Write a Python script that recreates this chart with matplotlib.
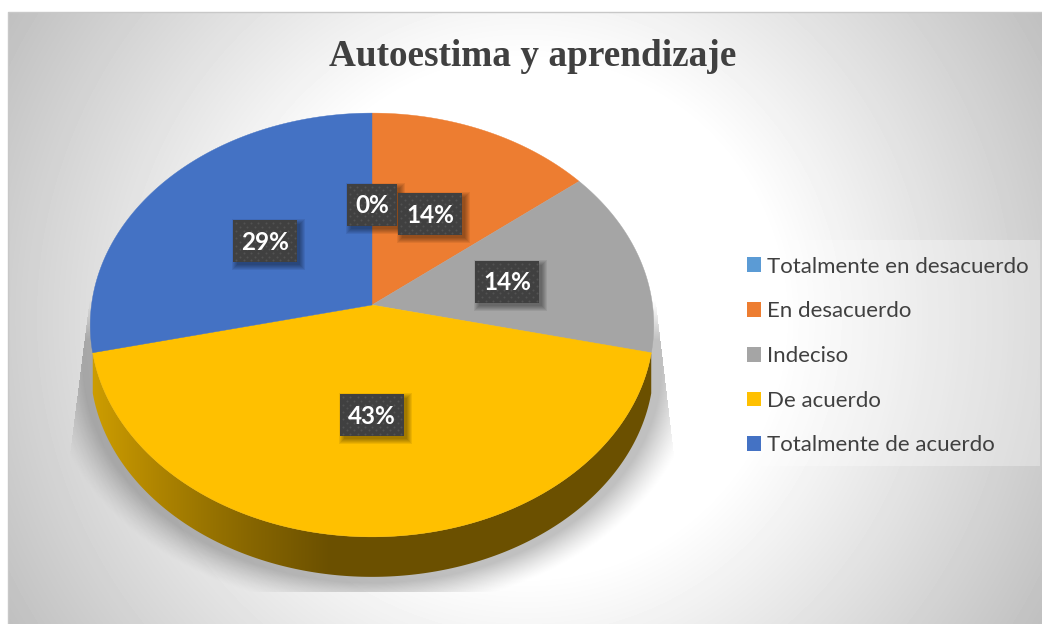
import numpy as np
import matplotlib
matplotlib.use('Agg')
import matplotlib.pyplot as plt
from matplotlib.patches import Rectangle, Polygon

plt.rcParams['font.family'] = ['Lato', 'DejaVu Sans']

titulo = 'Autoestima y aprendizaje'
categorias = ['Totalmente en desacuerdo', 'En desacuerdo', 'Indeciso', 'De acuerdo', 'Totalmente de acuerdo']
valores = [0, 1, 1, 3, 2]
colores = ['#5B9BD5', '#ED7D31', '#A5A5A5', '#FFC000', '#4472C4']

W, H = 1042, 624
# pie en perspectiva (pixeles)
cx, cy = 372, 305
rx, ka, kk = 280.5, 210, 0.0943
prof = 40


def proyectar(ang, f=1.0):
    u = f * np.sin(ang)
    v = f * np.cos(ang)
    d = 1 + kk * v
    return cx + rx * u / d, cy - ka * v / d


fig = plt.figure(figsize=(W / 100, H / 100), dpi=100)
ax = fig.add_axes([0, 0, 1, 1])
ax.set_xlim(0, W)
ax.set_ylim(H, 0)
ax.axis('off')

# fondo con gradiente radial
yy, xx = np.mgrid[0:H, 0:W]
r = np.hypot(xx - 525, yy - 318)
fondo = np.clip(255 - (r - 257) * 0.185, 0, 255) / 255
fondo[:12, :] = 1
fondo[:, :8] = 1
ax.imshow(fondo, cmap='gray', vmin=0, vmax=1, extent=(0, W, H, 0), aspect='auto', zorder=0)
ax.plot([8, 8, W], [H, 12, 12], color='#c8c8c8', lw=1, zorder=1)

# sombra del pie
rad = np.hypot((xx - cx) / 282, (yy - 325 - prof) / 212)
dist = (rad - 1) * 240
alfa = np.clip(1 - (dist - 6) / 32, 0, 1) ** 1.3 * 0.25
borde_izq = 84 - (yy - 340) * 0.127
borde_der = 660 + (yy - 340) * 0.118
mascara = (xx > borde_izq) & (xx < borde_der) & (yy < 592)
alfa = alfa * mascara * np.clip((yy - 300) / 40, 0, 1)
sombra = np.zeros((H, W, 4))
sombra[..., 3] = alfa
ax.imshow(sombra, extent=(0, W, H, 0), aspect='auto', zorder=2)

# lateral del pie
angs = np.linspace(np.radians(103), np.radians(257), 200)
xl, yl = proyectar(angs)
lado = np.column_stack([np.r_[xl, xl[::-1]], np.r_[yl + prof, yl[::-1]]])
stops_x = [92, 150, 200, 250, 330, 660]
stops_r = [205, 178, 155, 135, 107, 107]
stops_g = [157, 135, 118, 102, 80, 80]
xs = np.arange(W)
grad = np.zeros((1, W, 3))
grad[0, :, 0] = np.interp(xs, stops_x, stops_r) / 255
grad[0, :, 1] = np.interp(xs, stops_x, stops_g) / 255
im = ax.imshow(grad, extent=(0, W, H, 0), aspect='auto', zorder=3)
poly = Polygon(lado, closed=True, transform=ax.transData, facecolor='none', edgecolor='none')
ax.add_patch(poly)
im.set_clip_path(poly)

# rebanadas
total = sum(valores)
acum = 0
medios = []
for v, c in zip(valores, colores):
    a0 = 2 * np.pi * acum / total
    acum += v
    a1 = 2 * np.pi * acum / total
    medios.append((a0 + a1) / 2)
    if v == 0:
        continue
    t = np.linspace(a0, a1, 120)
    px, py = proyectar(t)
    ax.fill(np.r_[cx, px], np.r_[cy, py], color=c, lw=0.3, zorder=4)


# etiquetas
def etiqueta(x, y, txt):
    w = 50 if len(txt) == 2 else 64
    h = 42
    x0, y0 = x - w / 2, y - h / 2
    for i in range(6):
        ax.add_patch(Rectangle((x0 + 4 - i, y0 + 4 - i), w + 2 * i - 1, h + 2 * i - 1, color='k', alpha=0.07, lw=0, zorder=5))
    ax.add_patch(Rectangle((x0, y0), w, h, color='#404040', lw=0, zorder=5))
    gx, gy = np.meshgrid(np.arange(x0 + 3, x0 + w, 7.3), np.arange(y0 + 3, y0 + h, 3.7))
    gx = gx + (np.round((gy - y0 - 3) / 3.7) % 2) * 3.65
    dentro = gx < x0 + w - 1
    ax.scatter(gx[dentro], gy[dentro], s=2.2, color='#525252', lw=0, zorder=5)
    ax.text(x, y + 1, txt, color='white', fontsize=17.5, fontweight='bold', ha='center', va='center', zorder=5)


for v, m in zip(valores, medios):
    ex, ey = proyectar(m, 0.5)
    etiqueta(ex, ey, f'{round(100 * v / total)}%')

ax.text(533, 57, titulo, family='Liberation Serif', fontweight='bold', fontsize=26.8, color='#404040',
        ha='center', va='center', zorder=6)

# leyenda
ax.add_patch(Rectangle((735, 240), 305, 226, color='white', alpha=0.3, lw=0, zorder=6))
manijas = [Rectangle((0, 0), 1, 1, color=c, lw=0) for c in colores]
leg = ax.legend(manijas, categorias, loc='center left', bbox_to_anchor=(729 / W, 1 - 356 / H),
                bbox_transform=fig.transFigure, frameon=False, fontsize=16.05, labelcolor='#404040',
                handlelength=0.64, handleheight=0.64, handletextpad=0.27, labelspacing=1.11, borderpad=0.3)
leg.set_zorder(7)

fig.savefig('out.png', dpi=100)
